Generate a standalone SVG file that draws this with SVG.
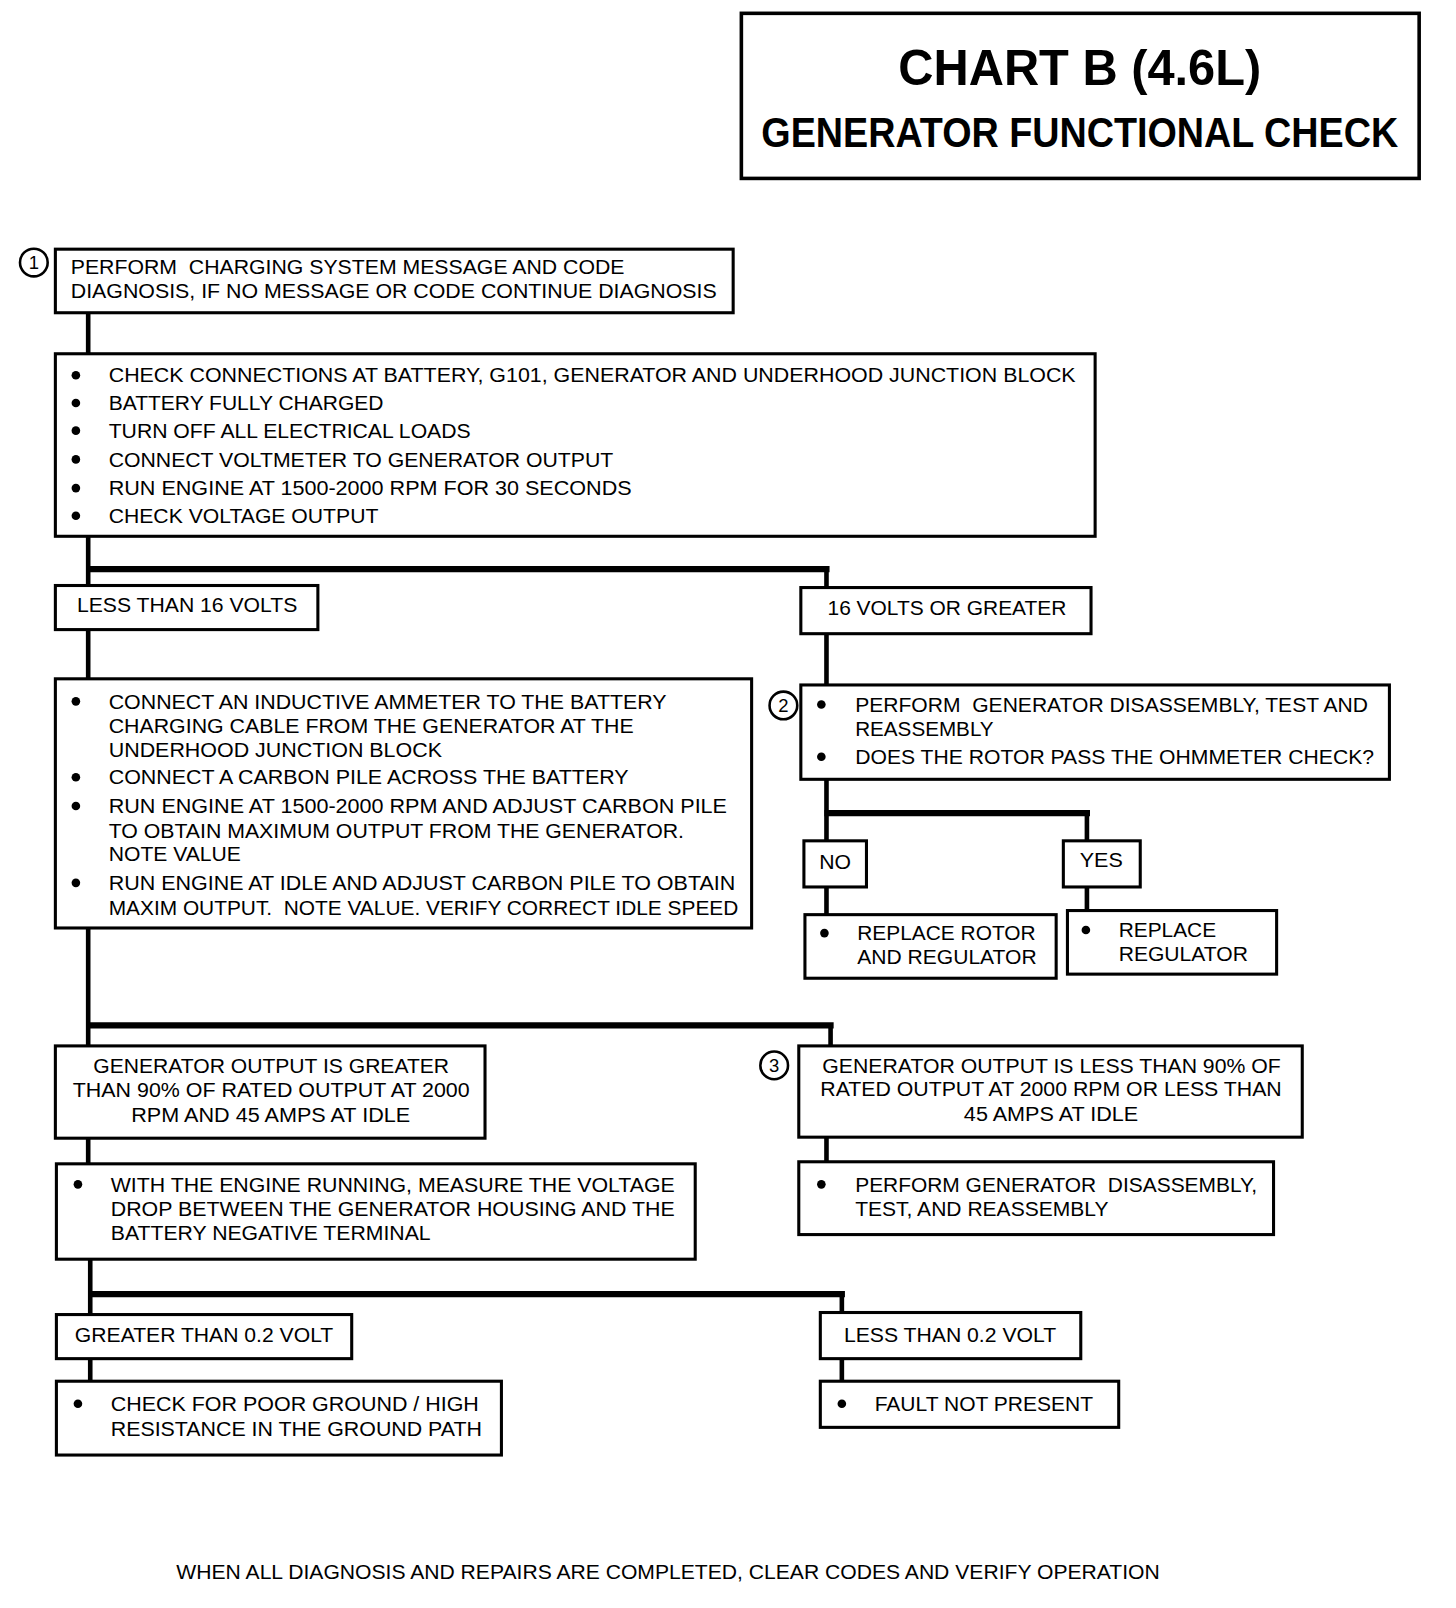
<svg xmlns="http://www.w3.org/2000/svg" width="1456" height="1608" viewBox="0 0 1456 1608">
<style>
.box{fill:#fff;stroke:#000;stroke-width:3}
.t{font-family:"Liberation Sans",Arial,Helvetica,sans-serif;font-size:20.5px;fill:#000;white-space:pre}
.h{font-family:"Liberation Sans",Arial,Helvetica,sans-serif;font-weight:bold;fill:#000}
.v{stroke:#000;stroke-width:4.5;fill:none}
.hz{stroke:#000;stroke-width:6;fill:none}
.num{fill:#fff;stroke:#000;stroke-width:2.5}
.nt{font-family:"Liberation Sans",Arial,Helvetica,sans-serif;font-size:18px;fill:#000;text-anchor:middle}
</style>
<defs><circle id="b" r="4.2" fill="#000"/></defs>
<rect width="1456" height="1608" fill="#fff"/>
<g transform="scale(1.0254)">
<g id="connectors">
<line class="v" x1="86" y1="305" x2="86" y2="345"/>
<line class="v" x1="86" y1="523" x2="86" y2="571"/>
<line class="hz" x1="84" y1="555" x2="809" y2="555"/>
<line class="v" x1="806" y1="555" x2="806" y2="573"/>
<line class="v" x1="86" y1="614" x2="86" y2="662"/>
<line class="v" x1="806" y1="618" x2="806" y2="668"/>
<line class="v" x1="806" y1="760" x2="806" y2="820"/>
<line class="hz" x1="804" y1="793" x2="1063" y2="793"/>
<line class="v" x1="1060" y1="793" x2="1060" y2="820"/>
<line class="v" x1="806" y1="865" x2="806" y2="892"/>
<line class="v" x1="1060" y1="865" x2="1060" y2="888"/>
<line class="v" x1="86" y1="905" x2="86" y2="1020"/>
<line class="hz" x1="84" y1="1000" x2="813" y2="1000"/>
<line class="v" x1="810" y1="1000" x2="810" y2="1020"/>
<line class="v" x1="86" y1="1110" x2="86" y2="1135"/>
<line class="v" x1="806" y1="1109" x2="806" y2="1133"/>
<line class="v" x1="88" y1="1228" x2="88" y2="1282"/>
<line class="hz" x1="86" y1="1262" x2="824" y2="1262"/>
<line class="v" x1="821" y1="1262" x2="821" y2="1280"/>
<line class="v" x1="88" y1="1325" x2="88" y2="1347"/>
<line class="v" x1="821" y1="1325" x2="821" y2="1347"/>
</g>
<g id="title">
<rect class="box" x="723" y="13" width="661" height="161" style="stroke-width:3.5"/>
<text class="h" x="1053" y="83" font-size="49" text-anchor="middle" textLength="354" lengthAdjust="spacingAndGlyphs">CHART B (4.6L)</text>
<text class="h" font-size="42" text-anchor="middle" transform="translate(1053,143) scale(0.876,1)">GENERATOR FUNCTIONAL CHECK</text>
</g>
<g id="n1">
<circle class="num" cx="33" cy="256" r="13.5"/>
<text class="nt" x="33" y="262.5">1</text>
<rect class="box" x="54" y="243" width="661" height="62"/>
<text class="t" x="69" y="267" textLength="540" lengthAdjust="spacingAndGlyphs">PERFORM  CHARGING SYSTEM MESSAGE AND CODE</text>
<text class="t" x="69" y="291" textLength="630" lengthAdjust="spacingAndGlyphs">DIAGNOSIS, IF NO MESSAGE OR CODE CONTINUE DIAGNOSIS</text>
</g>
<g id="n2">
<rect class="box" x="54" y="345" width="1014" height="178"/>
<use href="#b" x="74" y="366"/><text class="t" x="106" y="373" textLength="943" lengthAdjust="spacingAndGlyphs">CHECK CONNECTIONS AT BATTERY, G101, GENERATOR AND UNDERHOOD JUNCTION BLOCK</text>
<use href="#b" x="74" y="393"/><text class="t" x="106" y="400" textLength="268" lengthAdjust="spacingAndGlyphs">BATTERY FULLY CHARGED</text>
<use href="#b" x="74" y="420"/><text class="t" x="106" y="427" textLength="353" lengthAdjust="spacingAndGlyphs">TURN OFF ALL ELECTRICAL LOADS</text>
<use href="#b" x="74" y="448"/><text class="t" x="106" y="455" textLength="492" lengthAdjust="spacingAndGlyphs">CONNECT VOLTMETER TO GENERATOR OUTPUT</text>
<use href="#b" x="74" y="476"/><text class="t" x="106" y="483" textLength="510" lengthAdjust="spacingAndGlyphs">RUN ENGINE AT 1500-2000 RPM FOR 30 SECONDS</text>
<use href="#b" x="74" y="503"/><text class="t" x="106" y="510" textLength="263" lengthAdjust="spacingAndGlyphs">CHECK VOLTAGE OUTPUT</text>
</g>
<g id="n3">
<rect class="box" x="54" y="571" width="256" height="43"/>
<text class="t" x="75" y="597" textLength="215" lengthAdjust="spacingAndGlyphs">LESS THAN 16 VOLTS</text>
</g>
<g id="n4">
<rect class="box" x="781" y="573" width="283" height="45"/>
<text class="t" x="807" y="600" textLength="233" lengthAdjust="spacingAndGlyphs">16 VOLTS OR GREATER</text>
</g>
<g id="n5">
<rect class="box" x="54" y="662" width="679" height="243"/>
<use href="#b" x="74" y="684"/><text class="t" x="106" y="691" textLength="544" lengthAdjust="spacingAndGlyphs">CONNECT AN INDUCTIVE AMMETER TO THE BATTERY</text>
<text class="t" x="106" y="715" textLength="512" lengthAdjust="spacingAndGlyphs">CHARGING CABLE FROM THE GENERATOR AT THE</text>
<text class="t" x="106" y="738" textLength="325" lengthAdjust="spacingAndGlyphs">UNDERHOOD JUNCTION BLOCK</text>
<use href="#b" x="74" y="758"/><text class="t" x="106" y="765" textLength="507" lengthAdjust="spacingAndGlyphs">CONNECT A CARBON PILE ACROSS THE BATTERY</text>
<use href="#b" x="74" y="786"/><text class="t" x="106" y="793" textLength="603" lengthAdjust="spacingAndGlyphs">RUN ENGINE AT 1500-2000 RPM AND ADJUST CARBON PILE</text>
<text class="t" x="106" y="817" textLength="561" lengthAdjust="spacingAndGlyphs">TO OBTAIN MAXIMUM OUTPUT FROM THE GENERATOR.</text>
<text class="t" x="106" y="840" textLength="129" lengthAdjust="spacingAndGlyphs">NOTE VALUE</text>
<use href="#b" x="74" y="861"/><text class="t" x="106" y="868" textLength="611" lengthAdjust="spacingAndGlyphs">RUN ENGINE AT IDLE AND ADJUST CARBON PILE TO OBTAIN</text>
<text class="t" x="106" y="892" textLength="614" lengthAdjust="spacingAndGlyphs">MAXIM OUTPUT.  NOTE VALUE. VERIFY CORRECT IDLE SPEED</text>
</g>
<g id="n6">
<circle class="num" cx="764" cy="688" r="13.5"/>
<text class="nt" x="764" y="694.5">2</text>
<rect class="box" x="781" y="668" width="574" height="92"/>
<use href="#b" x="801" y="687"/><text class="t" x="834" y="694" textLength="500" lengthAdjust="spacingAndGlyphs">PERFORM  GENERATOR DISASSEMBLY, TEST AND</text>
<text class="t" x="834" y="718" textLength="135" lengthAdjust="spacingAndGlyphs">REASSEMBLY</text>
<use href="#b" x="801" y="738"/><text class="t" x="834" y="745" textLength="506" lengthAdjust="spacingAndGlyphs">DOES THE ROTOR PASS THE OHMMETER CHECK?</text>
</g>
<g id="n7">
<rect class="box" x="784" y="820" width="61" height="45"/>
<text class="t" x="799" y="847" textLength="31" lengthAdjust="spacingAndGlyphs">NO</text>
</g>
<g id="n8">
<rect class="box" x="1037" y="820" width="75" height="45"/>
<text class="t" x="1053" y="846" textLength="42" lengthAdjust="spacingAndGlyphs">YES</text>
</g>
<g id="n9">
<rect class="box" x="785" y="892" width="245" height="62"/>
<use href="#b" x="804" y="910"/><text class="t" x="836" y="917" textLength="174" lengthAdjust="spacingAndGlyphs">REPLACE ROTOR</text>
<text class="t" x="836" y="940" textLength="175" lengthAdjust="spacingAndGlyphs">AND REGULATOR</text>
</g>
<g id="n10">
<rect class="box" x="1041" y="888" width="204" height="62"/>
<use href="#b" x="1059" y="907"/><text class="t" x="1091" y="914" textLength="95" lengthAdjust="spacingAndGlyphs">REPLACE</text>
<text class="t" x="1091" y="937" textLength="126" lengthAdjust="spacingAndGlyphs">REGULATOR</text>
</g>
<g id="n11">
<rect class="box" x="54" y="1020" width="419" height="90"/>
<text class="t" x="91" y="1046" textLength="347" lengthAdjust="spacingAndGlyphs">GENERATOR OUTPUT IS GREATER</text>
<text class="t" x="71" y="1070" textLength="387" lengthAdjust="spacingAndGlyphs">THAN 90% OF RATED OUTPUT AT 2000</text>
<text class="t" x="128" y="1094" textLength="272" lengthAdjust="spacingAndGlyphs">RPM AND 45 AMPS AT IDLE</text>
</g>
<g id="n12">
<circle class="num" cx="755" cy="1039" r="13.5"/>
<text class="nt" x="755" y="1045.5">3</text>
<rect class="box" x="779" y="1020" width="491" height="89"/>
<text class="t" x="802" y="1046" textLength="447" lengthAdjust="spacingAndGlyphs">GENERATOR OUTPUT IS LESS THAN 90% OF</text>
<text class="t" x="800" y="1069" textLength="450" lengthAdjust="spacingAndGlyphs">RATED OUTPUT AT 2000 RPM OR LESS THAN</text>
<text class="t" x="940" y="1093" textLength="170" lengthAdjust="spacingAndGlyphs">45 AMPS AT IDLE</text>
</g>
<g id="n13">
<rect class="box" x="55" y="1135" width="623" height="93"/>
<use href="#b" x="76" y="1155"/><text class="t" x="108" y="1162" textLength="550" lengthAdjust="spacingAndGlyphs">WITH THE ENGINE RUNNING, MEASURE THE VOLTAGE</text>
<text class="t" x="108" y="1186" textLength="550" lengthAdjust="spacingAndGlyphs">DROP BETWEEN THE GENERATOR HOUSING AND THE</text>
<text class="t" x="108" y="1209" textLength="312" lengthAdjust="spacingAndGlyphs">BATTERY NEGATIVE TERMINAL</text>
</g>
<g id="n14">
<rect class="box" x="779" y="1133" width="463" height="71"/>
<use href="#b" x="801" y="1155"/><text class="t" x="834" y="1162" textLength="392" lengthAdjust="spacingAndGlyphs">PERFORM GENERATOR  DISASSEMBLY,</text>
<text class="t" x="834" y="1186" textLength="247" lengthAdjust="spacingAndGlyphs">TEST, AND REASSEMBLY</text>
</g>
<g id="n15">
<rect class="box" x="55" y="1282" width="288" height="43"/>
<text class="t" x="73" y="1309" textLength="252" lengthAdjust="spacingAndGlyphs">GREATER THAN 0.2 VOLT</text>
</g>
<g id="n16">
<rect class="box" x="800" y="1280" width="254" height="45"/>
<text class="t" x="823" y="1309" textLength="207" lengthAdjust="spacingAndGlyphs">LESS THAN 0.2 VOLT</text>
</g>
<g id="n17">
<rect class="box" x="55" y="1347" width="434" height="72"/>
<use href="#b" x="76" y="1369"/><text class="t" x="108" y="1376" textLength="359" lengthAdjust="spacingAndGlyphs">CHECK FOR POOR GROUND / HIGH</text>
<text class="t" x="108" y="1400" textLength="362" lengthAdjust="spacingAndGlyphs">RESISTANCE IN THE GROUND PATH</text>
</g>
<g id="n18">
<rect class="box" x="800" y="1347" width="291" height="45"/>
<use href="#b" x="821" y="1369"/><text class="t" x="853" y="1376" textLength="213" lengthAdjust="spacingAndGlyphs">FAULT NOT PRESENT</text>
</g>
<g id="footer">
<text class="t" x="172" y="1540" textLength="959" lengthAdjust="spacingAndGlyphs">WHEN ALL DIAGNOSIS AND REPAIRS ARE COMPLETED, CLEAR CODES AND VERIFY OPERATION</text>
</g>
</g>
</svg>
